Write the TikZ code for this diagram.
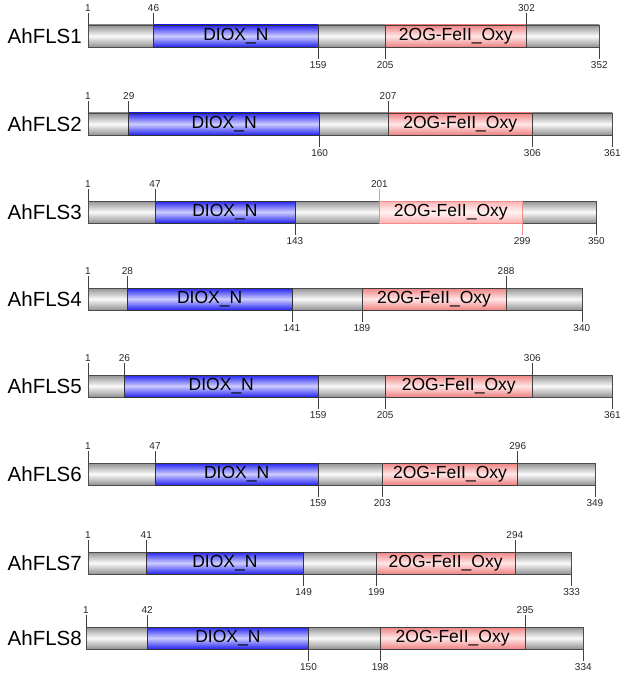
\documentclass[tikz,border=0pt]{standalone}
\usepackage{fontspec}
\setmainfont{Liberation Sans}

\definecolor{baredge}{RGB}{145,145,145}
\definecolor{barmid}{RGB}{250,250,250}
\definecolor{dioxedge}{RGB}{35,35,240}
\definecolor{dioxmid}{RGB}{205,205,255}
\definecolor{ogedge}{RGB}{240,130,130}
\definecolor{ogmid}{RGB}{255,230,230}
\definecolor{paleedge}{RGB}{255,178,178}
\definecolor{palemid}{RGB}{255,242,242}
\definecolor{paleline}{RGB}{245,140,140}

\begin{document}
\begin{tikzpicture}[x=1pt, y=-1pt,
    protein/.style={draw=black!70, line width=0.6pt, top color=baredge, bottom color=baredge, middle color=barmid},
    dioxbox/.style={draw=black!80, line width=0.6pt, top color=dioxedge, bottom color=dioxedge, middle color=dioxmid, font=\fontsize{17.5}{17.5}\selectfont},
    ogbox/.style={draw=black!75, line width=0.6pt, top color=ogedge, bottom color=ogedge, middle color=ogmid, font=\fontsize{17.5}{17.5}\selectfont},
    ogpale/.style={draw=paleline, line width=0.6pt, top color=paleedge, bottom color=paleedge, middle color=palemid, font=\fontsize{17.5}{17.5}\selectfont},
    tickmark/.style={draw=black!75, line width=0.6pt},
    uplab/.style={above, inner sep=1.5pt, text=black!85, font=\fontsize{10}{10}\selectfont},
    downlab/.style={below, inner sep=2.5pt, text=black!85, font=\fontsize{10}{10}\selectfont},
    seqname/.style={anchor=east, inner sep=0pt, font=\fontsize{20.5}{20.5}\selectfont}
  ]
  \useasboundingbox (0,0) rectangle (621,674);

  % y / length / left / scale / DIOX_N / 2OG (top, bottom) / style / tick colour
  \foreach \y/\len/\lft/\sc/\da/\db/\otop/\obot/\og/\tc [count=\i] in {
      36/352/88/1.4567/46/159/302/205/ogbox/black!75,
      124/361/88/1.4567/29/160/207/306/ogbox/black!75,
      212/350/88/1.4567/47/143/201/299/ogpale/paleline,
      299/340/88/1.4567/28/141/288/189/ogbox/black!75,
      386/361/88/1.4567/26/159/306/205/ogbox/black!75,
      474/349/88/1.4567/47/159/296/203/ogbox/black!75,
      563/333/88/1.4567/41/149/294/199/ogbox/black!75,
      638/334/86/1.4934/42/150/295/198/ogbox/black!75}
  {
    \node [seqname] (seq\i) at (82,\y) {AhFLS\i};
    \begin{scope}[x=\sc pt, xshift={\lft pt-\sc pt}]
      \draw [protein] (1,\y-11) rectangle (\len,\y+11);
      \draw [dioxbox] (\da,\y-11) rectangle node (diox\i) {DIOX\_N} (\db,\y+11);
      \draw [\og] (\otop,\y-11) rectangle node (og\i) {2OG-FeII\_Oxy} (\obot,\y+11);

      \draw [tickmark] (1,\y-11) -- ++(0,-12) node [uplab] (first\i) {1};
      \draw [tickmark] (\da,\y-11) -- ++(0,-12) node [uplab] (dstart\i) {\da};
      \draw [tickmark] (\db,\y+11) -- ++(0,12) node [downlab] (dend\i) {\db};
      \draw [tickmark, draw=\tc] (\otop,\y-11) -- ++(0,-12) node [uplab] (otop\i) {\otop};
      \draw [tickmark, draw=\tc] (\obot,\y+11) -- ++(0,12) node [downlab] (obot\i) {\obot};
      \draw [tickmark] (\len,\y+11) -- ++(0,12) node [downlab] (len\i) {\len};
    \end{scope}
  }
\end{tikzpicture}
\end{document}
